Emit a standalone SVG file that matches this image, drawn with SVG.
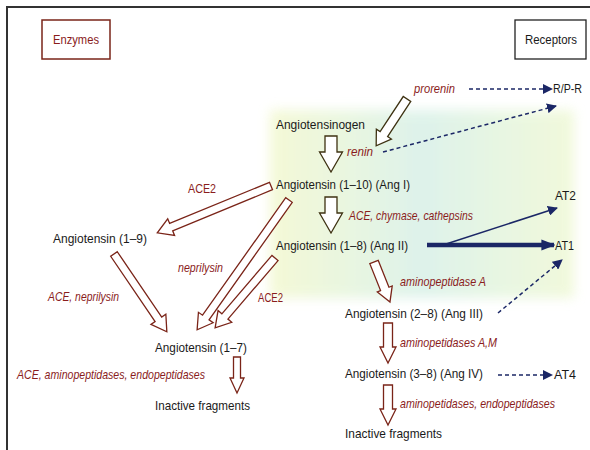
<svg xmlns="http://www.w3.org/2000/svg" width="590" height="450" viewBox="0 0 590 450">
<defs>
<linearGradient id="bg" x1="0" y1="0" x2="1" y2="0">
<stop offset="0" stop-color="#f2f8cc"/>
<stop offset="0.5" stop-color="#d6f0e6"/>
<stop offset="1" stop-color="#eef8d2"/>
</linearGradient>
<filter id="soft" x="-10%" y="-10%" width="120%" height="120%"><feGaussianBlur stdDeviation="6"/></filter>
<marker id="tri" viewBox="0 0 10 10" refX="9" refY="5" markerWidth="10" markerHeight="10" markerUnits="userSpaceOnUse" orient="auto">
<path d="M0,0 L10,5 L0,10 Z" fill="#1b2766"/>
</marker>
<marker id="triB" viewBox="0 0 10 10" refX="9" refY="5" markerWidth="14" markerHeight="14" markerUnits="userSpaceOnUse" orient="auto">
<path d="M0,1 L10,5 L0,9 Z" fill="#1b2766"/>
</marker>
</defs>
<style>
text{font-family:"Liberation Sans",Arial,sans-serif;font-size:13px;fill:#1a1a1a}
.enz{font-style:italic;fill:#8a1c1c}
.up{fill:#8a1c1c}
.ha{fill:#ffffff;stroke:#7a2418;stroke-width:1.3;stroke-linejoin:miter}
.hb{fill:#ffffff;stroke:#3e3212;stroke-width:1.3;stroke-linejoin:miter}
.dash{fill:none;stroke:#1b2766;stroke-width:1.5;stroke-dasharray:4 3}
.solid{fill:none;stroke:#1b2766}
</style>
<rect width="590" height="450" fill="#ffffff"/>
<rect x="270" y="110" width="304" height="188" fill="url(#bg)" filter="url(#soft)" opacity="0.8"/>
<path d="M7,450 L7,7 L590,7" fill="none" stroke="#333" stroke-width="2"/>

<g id="enzymes"><rect x="42" y="20" width="68" height="39" fill="#fff" stroke="#7a2418" stroke-width="1.5"/><text x="53" y="44" class="up" textLength="46" lengthAdjust="spacingAndGlyphs">Enzymes</text></g>
<g id="receptors"><rect x="515" y="20" width="71" height="39" fill="#fff" stroke="#222" stroke-width="1.3"/><text x="525" y="44" textLength="52" lengthAdjust="spacingAndGlyphs">Receptors</text></g>

<g id="connectors">
<polygon class="hb" transform="translate(407,99) rotate(123.4)" points="0,-4.5 42,-4.5 42,-9 56,0 42,9 42,4.5 0,4.5"/>
<polygon class="hb" transform="translate(331,136) rotate(90)" points="0,-6 16,-6 16,-11.5 36,0 16,11.5 16,6 0,6"/>
<polygon class="hb" transform="translate(331,197) rotate(90)" points="0,-6 16,-6 16,-11.5 36,0 16,11.5 16,6 0,6"/>
<polygon class="ha" transform="translate(271,186) rotate(157.6)" points="0,-4 108,-4 108,-9 123,0 108,9 108,4 0,4"/>
<polygon class="ha" transform="translate(114,254) rotate(55.8)" points="0,-4 79,-4 79,-9 94,0 79,9 79,4 0,4"/>
<polygon class="ha" transform="translate(289,200) rotate(125.3)" points="0,-4 144,-4 144,-9 159,0 144,9 144,4 0,4"/>
<polygon class="ha" transform="translate(275,258) rotate(130.6)" points="0,-4 77,-4 77,-9 92,0 77,9 77,4 0,4"/>
<polygon class="ha" transform="translate(237,357) rotate(90)" points="0,-3.5 21,-3.5 21,-7 36,0 21,7 21,3.5 0,3.5"/>
<polygon class="ha" transform="translate(374,262) rotate(68.2)" points="0,-4.5 29,-4.5 29,-8 43,0 29,8 29,4.5 0,4.5"/>
<polygon class="ha" transform="translate(388,323) rotate(90)" points="0,-4.5 24,-4.5 24,-8 40,0 24,8 24,4.5 0,4.5"/>
<polygon class="ha" transform="translate(388,385) rotate(90)" points="0,-4.5 24,-4.5 24,-8 40,0 24,8 24,4.5 0,4.5"/>
<line class="dash" x1="469" y1="89" x2="552" y2="89" marker-end="url(#tri)"/>
<line class="dash" x1="383" y1="152" x2="556" y2="106" marker-end="url(#tri)"/>
<line class="solid" x1="427" y1="245" x2="554" y2="245" stroke-width="4.5" marker-end="url(#triB)"/>
<line class="solid" x1="443" y1="245" x2="557" y2="208" stroke-width="1.5" marker-end="url(#tri)"/>
<line class="dash" x1="498" y1="313" x2="562" y2="260" marker-end="url(#tri)"/>
<line class="dash" x1="498" y1="375" x2="552" y2="375" marker-end="url(#tri)"/>
</g>

<g id="labels">
<text x="414" y="93" class="enz" textLength="41" lengthAdjust="spacingAndGlyphs">prorenin</text>
<text x="347" y="156" class="enz" textLength="26" lengthAdjust="spacingAndGlyphs">renin</text>
<text x="188" y="193" class="up" textLength="28" lengthAdjust="spacingAndGlyphs">ACE2</text>
<text x="349" y="220" class="enz" textLength="124" lengthAdjust="spacingAndGlyphs">ACE, chymase, cathepsins</text>
<text x="178" y="272" class="enz" textLength="45" lengthAdjust="spacingAndGlyphs">neprilysin</text>
<text x="48" y="301" class="enz" textLength="71" lengthAdjust="spacingAndGlyphs">ACE, neprilysin</text>
<text x="258" y="302" class="up" textLength="25" lengthAdjust="spacingAndGlyphs">ACE2</text>
<text x="17" y="379" class="enz" textLength="188" lengthAdjust="spacingAndGlyphs">ACE, aminopeptidases, endopeptidases</text>
<text x="400" y="286" class="enz" textLength="86" lengthAdjust="spacingAndGlyphs">aminopeptidase A</text>
<text x="400" y="347" class="enz" textLength="97" lengthAdjust="spacingAndGlyphs">aminopetidases A,M</text>
<text x="400" y="408" class="enz" textLength="155" lengthAdjust="spacingAndGlyphs">aminopetidases, endopeptidases</text>
</g>

<g id="n-agt"><text x="276" y="129" textLength="89" lengthAdjust="spacingAndGlyphs">Angiotensinogen</text></g>
<g id="n-ang1"><text x="276" y="189" textLength="134" lengthAdjust="spacingAndGlyphs">Angiotensin (1–10) (Ang I)</text></g>
<g id="n-ang2"><text x="276" y="250" textLength="132" lengthAdjust="spacingAndGlyphs">Angiotensin (1–8) (Ang II)</text></g>
<g id="n-ang19"><text x="53" y="243" textLength="94" lengthAdjust="spacingAndGlyphs">Angiotensin (1–9)</text></g>
<g id="n-ang17"><text x="155" y="352" textLength="92" lengthAdjust="spacingAndGlyphs">Angiotensin (1–7)</text></g>
<g id="n-inact1"><text x="155" y="410" textLength="95" lengthAdjust="spacingAndGlyphs">Inactive fragments</text></g>
<g id="n-ang3"><text x="345" y="318" textLength="138" lengthAdjust="spacingAndGlyphs">Angiotensin (2–8) (Ang III)</text></g>
<g id="n-ang4"><text x="345" y="378" textLength="138" lengthAdjust="spacingAndGlyphs">Angiotensin (3–8) (Ang IV)</text></g>
<g id="n-inact2"><text x="345" y="438" textLength="97" lengthAdjust="spacingAndGlyphs">Inactive fragments</text></g>
<g id="n-rpr"><text x="553" y="93" textLength="29" lengthAdjust="spacingAndGlyphs">R/P-R</text></g>
<g id="n-at2"><text x="555" y="200" textLength="21" lengthAdjust="spacingAndGlyphs">AT2</text></g>
<g id="n-at1"><text x="555" y="250" textLength="19" lengthAdjust="spacingAndGlyphs">AT1</text></g>
<g id="n-at4"><text x="554" y="379" textLength="22" lengthAdjust="spacingAndGlyphs">AT4</text></g>
</svg>
